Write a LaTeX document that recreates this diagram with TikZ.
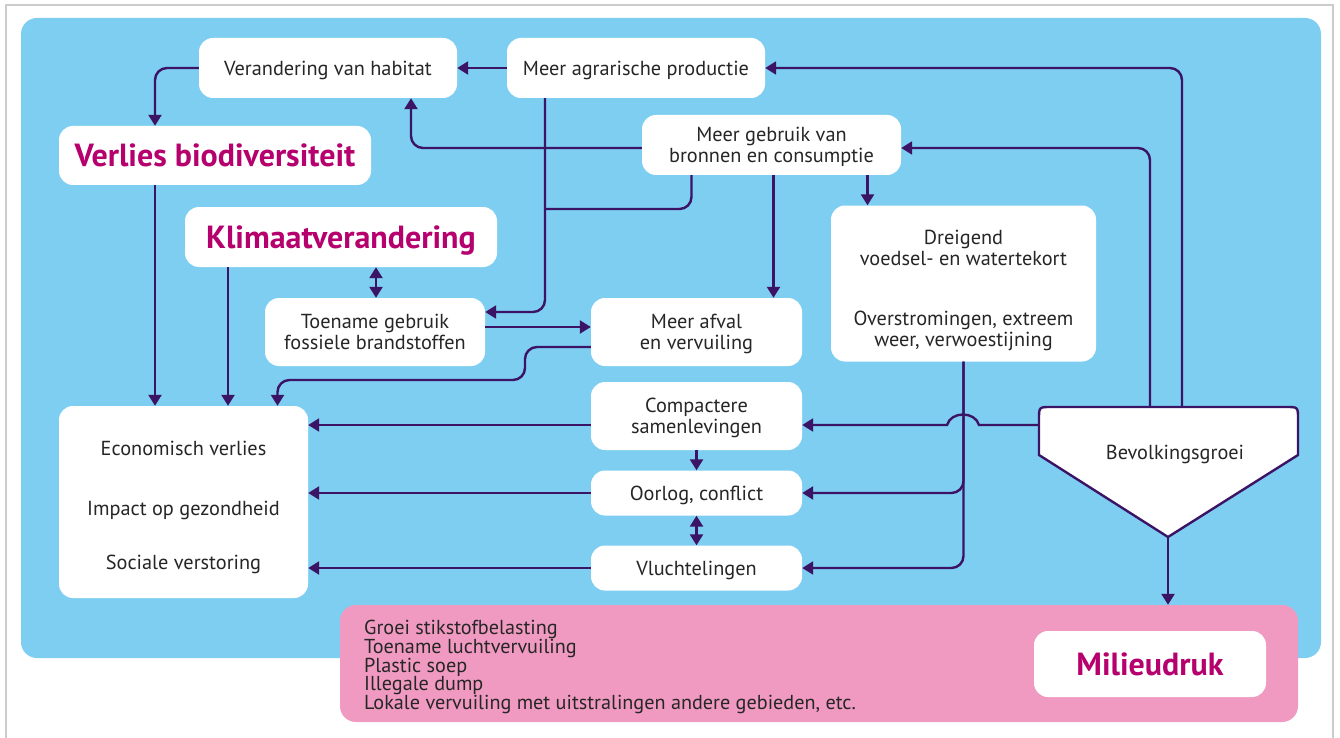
\documentclass[tikz,border=0pt]{standalone}
\usepackage{fontspec}
\setmainfont{PT Sans}
\usetikzlibrary{arrows.meta}
\definecolor{pane blue}{HTML}{7ECEF2}
\definecolor{pane pink}{HTML}{F09AC1}
\definecolor{link purple}{HTML}{3B1465}
\definecolor{title red}{HTML}{B5006D}
\definecolor{body text}{HTML}{262626}
\colorlet{frame line}{black!20}
\def\bodyfont{\fontsize{20.3}{20.5}\selectfont}
\def\titlefont{\fontsize{32}{34}\selectfont\bfseries}
\tikzset{whitebox/.style={fill=white, rounded corners=14pt, inner sep=0pt, align=center,
        text=body text, font=\bodyfont, text depth=-1pt},
    headline/.style={whitebox, text=title red, font=\titlefont},
    link/.style={draw=link purple, line width=2.4pt, rounded corners=12pt,
        -{Triangle[length=11pt, width=13pt]}},
    twoway/.style={link, {Triangle[length=11pt, width=13pt]}-{Triangle[length=11pt, width=13pt]}}}

\begin{document}
\begin{tikzpicture}[x=1pt, y=-1pt]
    \useasboundingbox (0,0) rectangle (1340,738);
    \draw[frame line, line width=1.5pt] (6,745) |- (1333,5) -- (1333,745);
    \fill[pane blue, rounded corners=16pt] (21,18) rectangle (1321,658);
    \node[fill=pane pink, rounded corners=16pt, inner sep=0pt,
          minimum width=958pt, minimum height=117pt] (druk) at (819,663.5) {};

    \node[whitebox, minimum width=258pt, minimum height=60pt] (habitat) at (328,68) {Verandering van habitat};
    \node[whitebox, minimum width=258pt, minimum height=60pt] (agrar) at (636,68) {Meer agrarische productie};
    \node[headline, minimum width=312pt, minimum height=59pt] (biodiv) at (215,155.5) {Verlies biodiversiteit};
    \node[whitebox, minimum width=259pt, minimum height=60pt] (gebruik) at (771.5,145) {Meer gebruik van\\bronnen en consumptie};
    \node[headline, minimum width=312pt, minimum height=60pt] (klimaat) at (341,237) {Klimaatverandering};
    \node[whitebox, minimum width=265pt, minimum height=156pt] (dreigend) at (963.5,283.5)
        {\rule{0pt}{24pt}Dreigend\\voedsel- en watertekort\\[40pt]Overstromingen, extreem\\weer, verwoestijning};
    \node[whitebox, minimum width=220pt, minimum height=68pt, text depth=-4pt] (toename) at (375,332) {Toename gebruik\\fossiele brandstoffen};
    \node[whitebox, minimum width=211pt, minimum height=68pt] (afval) at (696.5,332) {Meer afval\\en vervuiling};
    \node[whitebox, minimum width=211pt, minimum height=68pt, text depth=-3pt] (compact) at (696.5,416) {Compactere\\samenlevingen};
    \node[whitebox, minimum width=211pt, minimum height=45pt] (oorlog) at (696.5,493) {Oorlog, conflict};
    \node[whitebox, minimum width=211pt, minimum height=45pt, text depth=-3pt] (vlucht) at (696.5,568) {Vluchtelingen};
    \node[whitebox, minimum width=249pt, minimum height=192pt] (gevolg) at (183.5,502)
        {\rule{0pt}{21pt}Economisch verlies\\[39.5pt]Impact op gezondheid\\[33.5pt]Sociale verstoring};
    \node[headline, minimum width=232pt, minimum height=66pt] (milieu) at (1150,664) {Milieudruk};
    \node[anchor=north west, align=left, inner sep=0pt, text=body text,
          font=\fontsize{20.2}{18.75}\selectfont] (lijst) at (364,620)
        {Groei stikstofbelasting\\Toename luchtvervuiling\\Plastic soep\\Illegale dump\\
         Lokale vervuiling met uitstralingen andere gebieden, etc.};

    \filldraw[fill=white, draw=link purple, line width=2.4pt] (1168,537) -- (1039,455) -- (1039,419)
        .. controls (1039,407) .. (1051,407) -- (1286,407) .. controls (1298,407) .. (1298,419)
        -- (1298,455) -- cycle;
    \node[text=body text, font=\bodyfont, text depth=-1pt] (bev) at (1175,452) {Bevolkingsgroei};
    \coordinate (bevL) at (1150,407);
    \coordinate (bevR) at (1182,407);
    \coordinate (bevW) at (1039,425);
    \coordinate (bevS) at (1168,537);
    \coordinate (knik) at (545,209);

    \draw[link] (agrar.west) -- (habitat.east);
    \draw[link] (habitat.west) -| ([xshift=-60pt]biodiv.north);
    \draw[link] ([yshift=-3pt]gebruik.west) -| ([xshift=83pt]habitat.south);
    \draw[link] ([xshift=-91pt]agrar.south) |- ([yshift=20pt]toename.east);
    \draw[link, -] ([xshift=-80pt]gebruik.south) |- (knik);
    \draw[link] ([xshift=2pt]gebruik.south) -- ([xshift=2pt]gebruik.south |- afval.north);
    \draw[link] ([xshift=96pt]gebruik.south) -- ([xshift=96pt]gebruik.south |- dreigend.north);
    \draw[link] (bevR) |- (agrar.east);
    \draw[link] (bevL) |- ([yshift=-3pt]gebruik.east);
    \draw[link, sharp corners] (bevW) -- (979,425) .. controls (975,411) and (951,411) .. (947,425)
        -- ([yshift=-9pt]compact.east);
    \draw[link] (dreigend.south) |- (oorlog.east);
    \draw[link] (dreigend.south) |- (vlucht.east);
    \draw[link] (bevS) -- (bevS |- druk.north);
    \draw[twoway] ([xshift=1pt]toename.north) -- ([xshift=1pt]toename.north |- klimaat.south);
    \draw[link] ([yshift=5pt]toename.east) -- ([yshift=5pt]toename.east -| afval.west);
    \draw[link] ([yshift=-15pt]afval.west) -| (525,380) -| ([xshift=94pt]gevolg.north);
    \draw[link] ([xshift=-60pt]biodiv.south) -- ([xshift=-60pt]biodiv.south |- gevolg.north);
    \draw[link] ([xshift=-113pt]klimaat.south) -- ([xshift=-113pt]klimaat.south |- gevolg.north);
    \draw[link] ([yshift=-9pt]compact.west) -- ([yshift=-9pt]compact.west -| gevolg.east);
    \draw[link] (oorlog.west) -- (oorlog.west -| gevolg.east);
    \draw[link] (vlucht.west) -- (vlucht.west -| gevolg.east);
    \draw[link] (compact.south) -- (oorlog.north);
    \draw[twoway] (oorlog.south) -- (vlucht.north);
\end{tikzpicture}
\end{document}
